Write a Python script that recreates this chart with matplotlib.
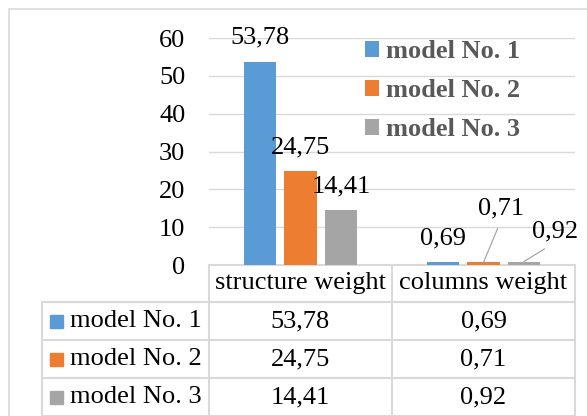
import matplotlib
matplotlib.use('Agg')
import matplotlib.pyplot as plt
import matplotlib.transforms as mtransforms
from matplotlib.patches import Rectangle
import numpy as np

# data
categories = ['structure weight', 'columns weight']
models = ['model No. 1', 'model No. 2', 'model No. 3']
model1 = [53.78, 0.69]
model2 = [24.75, 0.71]
model3 = [14.41, 0.92]
yticks = [0, 10, 20, 30, 40, 50, 60]

series = [model1, model2, model3]
colors = ['#5B9BD5', '#ED7D31', '#A5A5A5']
grid_c = '#D9D9D9'
W, H = 587, 416
FS = 19

plt.rcParams['font.family'] = ['Liberation Serif', 'DejaVu Serif']
plt.rcParams['font.size'] = FS


def fmt(v):
    return f'{v:.2f}'.replace('.', ',')


fig = plt.figure(figsize=(W / 100, H / 100), dpi=100)
fig.patch.set_facecolor('white')

# outer chart border (runs off the right/bottom edge)
fig.add_artist(Rectangle((8.5 / W, -0.2), 1.0, 1.2 - 8.5 / H, transform=fig.transFigure,
                         fill=False, ec=grid_c, lw=1.2))

ax = fig.add_axes([209 / W, (H - 265) / H, 366 / W, 227 / H])
ax.set_xlim(-0.5, 1.5)
ax.set_ylim(0, 60)
ax.set_yticks(yticks)
ax.set_xticks([])
ax.tick_params(axis='y', length=0, pad=17, labelsize=FS)
for s in ax.spines.values():
    s.set_visible(False)
ax.grid(axis='y', color=grid_c, lw=1.0)
ax.set_axisbelow(True)

x = np.arange(len(categories))
bw = 0.175
step = 0.221
for i, vals in enumerate(series):
    ax.bar(x + (i - 1) * step, vals, bw, color=colors[i], label=models[i], zorder=3)

# value labels; two small ones are pushed aside with leader lines
shift = {(1, 1): (18, 54), (2, 1): (31, 30)}
for i, vals in enumerate(series):
    for j, v in enumerate(vals):
        xc = x[j] + (i - 1) * step
        dx, dy = shift.get((i, j), (0, 24))
        kw = {}
        if (i, j) in shift:
            kw['arrowprops'] = dict(arrowstyle='-', color='#A6A6A6', lw=0.9,
                                    relpos=(0.5, 0), shrinkA=5, shrinkB=0)
        ax.annotate(fmt(v), (xc, v), xytext=(dx * 0.72, dy * 0.72), textcoords='offset points',
                    ha='center', va='center', fontsize=FS, color='black', **kw)

leg = ax.legend(loc='upper left', bbox_to_anchor=(0.426, 0.99), frameon=False,
                borderpad=0, borderaxespad=0, handlelength=0.55, handleheight=0.55,
                handletextpad=0.25, labelspacing=0.6,
                prop={'family': 'Liberation Serif', 'weight': 'bold', 'size': FS})
for t in leg.get_texts():
    t.set_color('#595959')

# data table under the plot, columns follow the category positions
tr = mtransforms.blended_transform_factory(ax.transData, ax.transAxes)
lab_w = 0.913
row_h = 38 / 227
head_h = 37 / 227
left = -0.5 - lab_w
col_edges = [-0.5 + k for k in range(len(categories) + 1)]
row_tops = [-head_h - k * row_h for k in range(len(models) + 1)]

line_kw = dict(color=grid_c, lw=1.5, transform=tr, clip_on=False)
ax.plot([col_edges[0], col_edges[-1]], [0, 0], **line_kw)
for y in row_tops:
    ax.plot([left, col_edges[-1]], [y, y], **line_kw)
for xe in col_edges:
    ax.plot([xe, xe], [0, row_tops[-1]], **line_kw)
ax.plot([left, left], [row_tops[0], row_tops[-1]], **line_kw)

for j, c in enumerate(categories):
    ax.text(x[j], -head_h / 2, c, transform=tr, ha='center', va='center', fontsize=FS)

for i, name in enumerate(models):
    yc = row_tops[i] - row_h / 2
    ax.add_patch(Rectangle((left + 8 / 183, yc - 6.5 / 227), 13 / 183, 13 / 227,
                           transform=tr, color=colors[i], clip_on=False))
    ax.text(left + 28 / 183, yc, name, transform=tr, ha='left', va='center', fontsize=FS)
    for j in range(len(categories)):
        ax.text(x[j], yc, fmt(series[i][j]), transform=tr, ha='center', va='center', fontsize=FS)

fig.savefig('out.png', dpi=100)
